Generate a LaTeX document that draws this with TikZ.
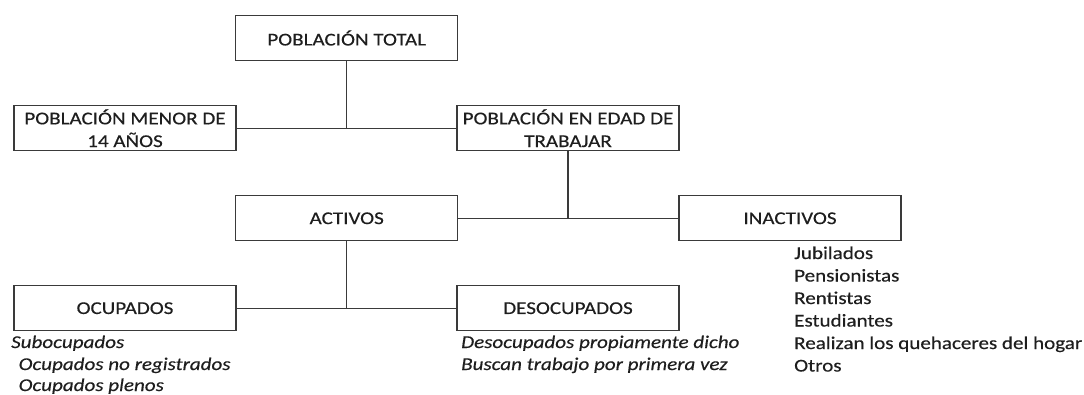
\documentclass[tikz,border=0pt]{standalone}
\usepackage{fontspec}
\setmainfont{Carlito}[FakeStretch=1.17,FakeBold=0.4]
\definecolor{ink}{HTML}{1E1E1E}
\definecolor{edge}{HTML}{3A3A3A}
\tikzset{
  box/.style={draw=edge, line width=1.2pt, minimum width=222pt, minimum height=45pt,
    inner sep=0pt, align=center, text=ink, font=\fontsize{18}{22.7}\selectfont},
  conn/.style={draw=edge, line width=1.2pt},
  item/.style={anchor=base west, inner sep=0pt, text=ink, font=\fontsize{18}{22}\selectfont},
  itemit/.style={item, font=\fontsize{18}{22}\selectfont\itshape}
}
\begin{document}
\begin{tikzpicture}[x=1pt,y=-1pt]
\useasboundingbox (0,0) rectangle (1084,394);
\node[box] (total) at (346.7,38) {POBLACIÓN TOTAL};
\node[box] (menor) at (125,128.2) {POBLACIÓN MENOR DE\\14 AÑOS};
\node[box] (edad) at (568,128.2) {POBLACIÓN EN EDAD DE\\TRABAJAR};
\node[box] (activos) at (346.7,218.3) {ACTIVOS};
\node[box] (inactivos) at (790,218.3) {INACTIVOS};
\node[box] (ocupados) at (125,308.2) {OCUPADOS};
\node[box] (desocupados) at (568,308.2) {DESOCUPADOS};

\draw[conn] (total.south) -- (total.south |- menor.east);
\draw[conn] (menor.east) -- (edad.west);
\draw[conn] (edad.south) -- (edad.south |- activos.east);
\draw[conn] (activos.east) -- (inactivos.west);
\draw[conn] (activos.south) -- (activos.south |- ocupados.east);
\draw[conn] (ocupados.east) -- (desocupados.west);

\node[item] (i1) at (794,259) {Jubilados};
\node[item] (i2) at (794,281.5) {Pensionistas};
\node[item] (i3) at (794,304) {Rentistas};
\node[item] (i4) at (794,326.5) {Estudiantes};
\node[item] (i5) at (794,349) {Realizan los quehaceres del hogar};
\node[item] (i6) at (794,371.5) {Otros};

\node[itemit] (o1) at (11,348) {Subocupados};
\node[itemit] (o2) at (18.5,370) {Ocupados no registrados};
\node[itemit] (o3) at (18.5,391) {Ocupados plenos};

\node[itemit] (d1) at (461,348) {Desocupados propiamente dicho};
\node[itemit] (d2) at (461,370) {Buscan trabajo por primera vez};
\end{tikzpicture}
\end{document}
